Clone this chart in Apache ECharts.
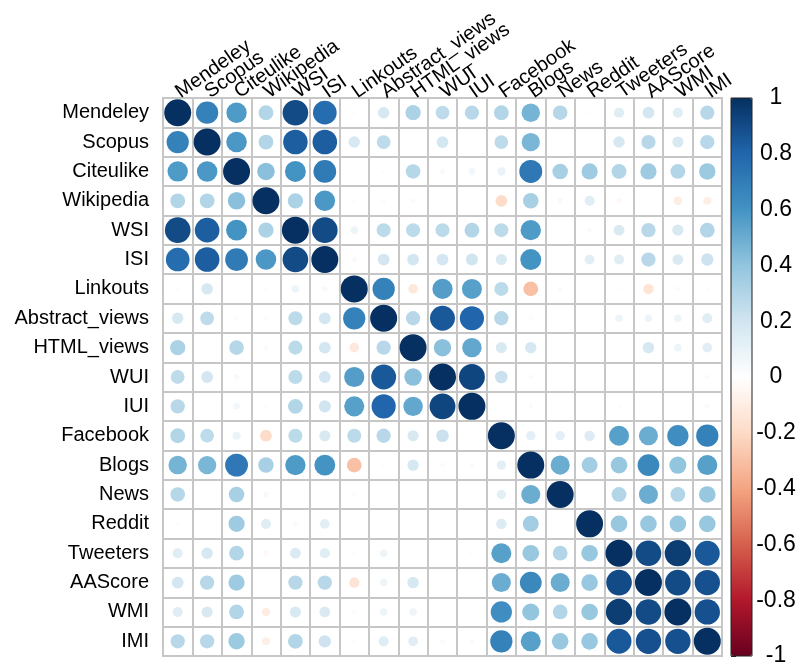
<!DOCTYPE html>
<html>
<head>
<meta charset="utf-8">
<script src="https://cdn.jsdelivr.net/npm/echarts@6/dist/echarts.min.js"></script>
<style>html,body{margin:0;padding:0;background:#fff;}#c{width:803px;height:669px;}</style>
</head>
<body>
<div id="c"></div>
<script>
const variables = ["Mendeley","Scopus","Citeulike","Wikipedia","WSI","ISI","Linkouts","Abstract_views","HTML_views","WUI","IUI","Facebook","Blogs","News","Reddit","Tweeters","AAScore","WMI","IMI"];

const rowMendeley  = [1, 0.68, 0.57, 0.30, 0.90, 0.77, 0.02, 0.18, 0.32, 0.26, 0.28, 0.30, 0.47, 0.29, 0.02, 0.14, 0.19, 0.14, 0.28];
const rowScopus    = [0.68, 1, 0.58, 0.30, 0.83, 0.83, 0.18, 0.26, 0.00, 0.19, 0.00, 0.26, 0.46, 0.00, 0.00, 0.18, 0.28, 0.17, 0.28];
const rowCiteulike = [0.57, 0.58, 1, 0.42, 0.60, 0.71, 0.00, -0.02, 0.29, 0.04, 0.06, 0.09, 0.72, 0.33, 0.36, 0.30, 0.36, 0.30, 0.37];
const rowWikipedia = [0.30, 0.30, 0.42, 1, 0.32, 0.58, 0.02, -0.03, 0.03, 0.01, 0.02, -0.19, 0.33, 0.04, 0.14, -0.04, 0.01, -0.10, -0.09];
const rowWSI       = [0.90, 0.83, 0.60, 0.32, 1, 0.90, 0.08, 0.27, 0.27, 0.27, 0.30, 0.27, 0.57, 0.00, 0.03, 0.16, 0.28, 0.17, 0.30];
const rowISI       = [0.77, 0.83, 0.71, 0.58, 0.90, 1, 0.04, 0.19, 0.19, 0.19, 0.20, 0.17, 0.60, 0.00, 0.13, 0.14, 0.28, 0.16, 0.21];
const rowLinkouts  = [0.02, 0.18, 0.00, 0.02, 0.08, 0.04, 1, 0.68, -0.13, 0.56, 0.55, 0.27, -0.30, 0.03, 0.00, -0.02, -0.15, -0.03, -0.02];
const rowAbstract  = [0.18, 0.26, -0.02, -0.03, 0.27, 0.19, 0.68, 1, 0.28, 0.85, 0.80, 0.28, -0.02, 0.00, 0.00, 0.08, 0.08, 0.08, 0.14];
const rowHTML      = [0.32, 0.00, 0.29, 0.03, 0.27, 0.19, -0.13, 0.28, 1, 0.42, 0.52, 0.17, 0.18, 0.00, 0.00, 0.00, 0.18, 0.08, 0.13];
const rowWUI       = [0.26, 0.19, 0.04, 0.01, 0.27, 0.19, 0.56, 0.85, 0.42, 1, 0.92, 0.22, 0.03, 0.01, 0.00, 0.01, 0.01, 0.01, 0.03];
const rowIUI       = [0.28, 0.00, 0.06, 0.02, 0.30, 0.20, 0.55, 0.80, 0.52, 0.92, 1, 0.00, 0.03, 0.01, 0.00, 0.02, 0.01, 0.01, 0.03];
const rowFacebook  = [0.30, 0.26, 0.09, -0.19, 0.27, 0.17, 0.27, 0.28, 0.17, 0.22, 0.00, 1, 0.12, 0.12, 0.15, 0.55, 0.50, 0.62, 0.68];
const rowBlogs     = [0.47, 0.46, 0.72, 0.33, 0.57, 0.60, -0.30, -0.02, 0.18, 0.03, 0.03, 0.12, 1, 0.50, 0.35, 0.38, 0.65, 0.40, 0.55];
const rowNews      = [0.29, 0.00, 0.33, 0.04, 0.00, 0.00, 0.03, 0.00, 0.00, 0.01, 0.01, 0.12, 0.50, 1, 0.00, 0.30, 0.50, 0.30, 0.38];
const rowReddit    = [0.02, 0.00, 0.36, 0.14, 0.03, 0.13, 0.00, 0.00, 0.00, 0.00, 0.00, 0.15, 0.35, 0.00, 1, 0.38, 0.38, 0.38, 0.38];
const rowTweeters  = [0.14, 0.18, 0.30, -0.04, 0.16, 0.14, -0.02, 0.08, 0.00, 0.01, 0.02, 0.55, 0.38, 0.30, 0.38, 1, 0.90, 0.95, 0.85];
const rowAAScore   = [0.19, 0.28, 0.36, 0.01, 0.28, 0.28, -0.15, 0.08, 0.18, 0.01, 0.01, 0.50, 0.65, 0.50, 0.38, 0.90, 1, 0.90, 0.88];
const rowWMI       = [0.14, 0.17, 0.30, -0.10, 0.17, 0.16, -0.03, 0.08, 0.08, 0.01, 0.01, 0.62, 0.40, 0.30, 0.38, 0.95, 0.90, 1, 0.88];
const rowIMI       = [0.28, 0.28, 0.37, -0.09, 0.30, 0.21, -0.02, 0.14, 0.13, 0.03, 0.03, 0.68, 0.55, 0.38, 0.38, 0.85, 0.88, 0.88, 1];

const colorbarTicks = [-1, -0.8, -0.6, -0.4, -0.2, 0, 0.2, 0.4, 0.6, 0.8, 1];
const palette = ["#67001F","#B2182B","#D6604D","#F4A582","#FDDBC7","#FFFFFF","#D1E5F0","#92C5DE","#4393C3","#2166AC","#053061"];

const matrix = [rowMendeley,rowScopus,rowCiteulike,rowWikipedia,rowWSI,rowISI,rowLinkouts,rowAbstract,rowHTML,rowWUI,rowIUI,rowFacebook,rowBlogs,rowNews,rowReddit,rowTweeters,rowAAScore,rowWMI,rowIMI];
const data = [];
matrix.forEach((row, i) => row.forEach((v, j) => data.push([j, i, v])));

const FONT = "'Liberation Sans', Arial, sans-serif";
const chart = echarts.init(document.getElementById('c'), null, {renderer: 'canvas'});
chart.setOption({
  animation: false,
  backgroundColor: '#fff',
  grid: [
    {left: 163, top: 98, width: 559, height: 558, show: true, borderColor: '#c6c6c6', borderWidth: 2, backgroundColor: 'transparent'},
    {left: 731, top: 98, width: 21, height: 558, show: true, borderColor: '#222', borderWidth: 1, backgroundColor: 'transparent', z: 10}
  ],
  xAxis: [
    {gridIndex: 0, type: 'category', data: variables, position: 'top', boundaryGap: true,
     axisLine: {show: false}, axisTick: {show: false},
     splitLine: {show: true, interval: 0, lineStyle: {color: '#c6c6c6', width: 2}},
     axisLabel: {interval: 0, rotate: -35, margin: 4, color: '#000', fontSize: 20, fontFamily: FONT}},
    {gridIndex: 1, type: 'value', show: false, min: 0, max: 1}
  ],
  yAxis: [
    {gridIndex: 0, type: 'category', data: variables, inverse: true, boundaryGap: true,
     axisLine: {show: false}, axisTick: {show: false},
     splitLine: {show: true, interval: 0, lineStyle: {color: '#c6c6c6', width: 2}},
     axisLabel: {interval: 0, margin: 14, color: '#000', fontSize: 20, fontFamily: FONT}},
    {gridIndex: 1, type: 'value', position: 'right', min: -1, max: 1, interval: 0.2,
     axisLine: {show: false}, splitLine: {show: false},
     axisTick: {show: true, length: 5, lineStyle: {color: '#222', width: 1}},
     axisLabel: {margin: 24, align: 'center', color: '#000', fontSize: 23, fontFamily: FONT,
       formatter: v => { const r = Math.round(v * 10) / 10; return colorbarTicks.some(t => Math.abs(t - r) < 1e-6) ? String(r) : ''; }}}
  ],
  visualMap: {
    type: 'continuous', min: -1, max: 1, dimension: 2, seriesIndex: 0,
    orient: 'vertical', left: 731, top: 98, itemWidth: 21, itemHeight: 558,
    calculable: false, text: null, showLabel: false,
    inRange: {color: palette}, padding: 0
  },
  series: [{
    type: 'scatter', xAxisIndex: 0, yAxisIndex: 0, data: data,
    symbol: 'circle',
    symbolSize: d => 27 * Math.sqrt(Math.abs(d[2])),
    itemStyle: {opacity: 1}
  }]
});
</script>
</body>
</html>
